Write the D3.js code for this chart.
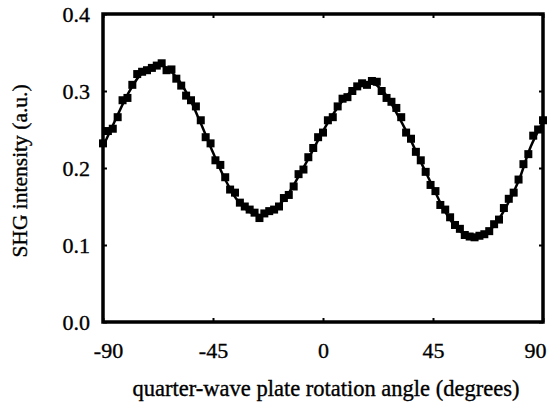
<!DOCTYPE html>
<html>
<head>
<meta charset="utf-8">
<script src="https://cdn.jsdelivr.net/npm/d3@7"></script>
<style>
  body { margin: 0; background: #fff; }
  svg text { font-family: "Liberation Serif", "Times New Roman", serif; fill: #000; stroke: #000; stroke-width: 0.35px; }
</style>
</head>
<body>
<svg id="chart" width="549" height="405"></svg>
<script>
// measured points, every 2 degrees
var angles = d3.range(-90, 91, 2);
var intensity = [
  0.232, 0.248, 0.251, 0.266, 0.288, 0.291, 0.308, 0.322, 0.325, 0.327,
  0.330, 0.333, 0.336, 0.327, 0.328, 0.316, 0.307, 0.294, 0.288, 0.280,
  0.262, 0.240, 0.232, 0.210, 0.204, 0.188, 0.172, 0.168, 0.155, 0.150,
  0.146, 0.142, 0.135, 0.141, 0.144, 0.146, 0.150, 0.161, 0.165, 0.176,
  0.192, 0.198, 0.214, 0.226, 0.240, 0.246, 0.262, 0.266, 0.280, 0.290,
  0.292, 0.300, 0.306, 0.310, 0.308, 0.313, 0.312, 0.300, 0.291, 0.286,
  0.278, 0.266, 0.246, 0.238, 0.221, 0.210, 0.195, 0.178, 0.170, 0.152,
  0.146, 0.136, 0.126, 0.121, 0.113, 0.111, 0.110, 0.112, 0.114, 0.118,
  0.127, 0.133, 0.148, 0.160, 0.168, 0.185, 0.205, 0.218, 0.242, 0.250,
  0.262
];

// fitted curve, every 5 degrees
var fitAngles = d3.range(-90, 91, 5);
var fitValues = [
  0.228, 0.262, 0.295, 0.320, 0.333, 0.332, 0.318, 0.293, 0.258, 0.220,
  0.185, 0.158, 0.143, 0.139, 0.146, 0.163, 0.189, 0.218, 0.248, 0.274,
  0.295, 0.308, 0.311, 0.298, 0.272, 0.242, 0.208, 0.175, 0.143, 0.121,
  0.111, 0.112, 0.125, 0.150, 0.183, 0.228, 0.260
];

var xTicks = [-90, -45, 0, 45, 90];
var yTicks = [0.0, 0.1, 0.2, 0.3, 0.4];

var svg = d3.select("#chart");
var margin = {top: 14, right: 6, bottom: 83, left: 103},
    width = +svg.attr("width") - margin.left - margin.right,
    height = +svg.attr("height") - margin.top - margin.bottom;

var g = svg.append("g")
    .attr("transform", "translate(" + margin.left + "," + margin.top + ")");

var x = d3.scaleLinear().domain([-90, 90]).range([0, width]);
var y = d3.scaleLinear().domain([0, 0.4]).range([height, 0]);

// axes with inward ticks on all four sides
var xb = g.append("g")
    .attr("transform", "translate(0," + height + ")")
    .call(d3.axisBottom(x).tickValues(xTicks).tickSize(-4).tickPadding(20)
      .tickFormat(function(d) { return String(d); }));
g.append("g")
    .call(d3.axisTop(x).tickValues(xTicks).tickSize(-4).tickFormat(""));
g.append("g")
    .call(d3.axisLeft(y).tickValues(yTicks).tickSize(-4).tickPadding(13).tickFormat(d3.format(".1f")));
g.append("g")
    .attr("transform", "translate(" + width + ",0)")
    .call(d3.axisRight(y).tickValues(yTicks).tickSize(-4).tickFormat(""));

g.selectAll(".domain").remove();
g.selectAll(".tick line").attr("stroke", "#000").attr("stroke-width", 2);
g.selectAll(".tick text").style("font-size", "22px");
xb.selectAll(".tick text").attr("dx", function(d) { return d === 90 ? -8 : d === -90 ? 5 : 0; });

// frame
g.append("rect")
    .attr("width", width)
    .attr("height", height)
    .attr("fill", "none")
    .attr("stroke", "#000")
    .attr("stroke-width", 3.5);

var fit = fitAngles.map(function(a, i) { return [a, fitValues[i]]; });
g.append("path")
    .datum(fit)
    .attr("fill", "none")
    .attr("stroke", "#000")
    .attr("stroke-width", 2.5)
    .attr("d", d3.line()
        .x(function(d) { return x(d[0]); })
        .y(function(d) { return y(d[1]); })
        .curve(d3.curveCatmullRom));

var s = 8;
g.append("g").selectAll("rect")
    .data(angles)
  .enter().append("rect")
    .attr("x", function(d) { return x(d) - s / 2; })
    .attr("y", function(d, i) { return y(intensity[i]) - s / 2; })
    .attr("width", s)
    .attr("height", s)
    .attr("fill", "#000");

svg.append("text")
    .attr("x", margin.left + width / 2 + 3)
    .attr("y", 396)
    .attr("text-anchor", "middle")
    .style("font-size", "22.5px")
    .text("quarter-wave plate rotation angle (degrees)");

svg.append("text")
    .attr("transform", "translate(27," + (margin.top + height / 2 + 3) + ") rotate(-90)")
    .attr("text-anchor", "middle")
    .style("font-size", "21.5px")
    .text("SHG intensity (a.u.)");
</script>
</body>
</html>
